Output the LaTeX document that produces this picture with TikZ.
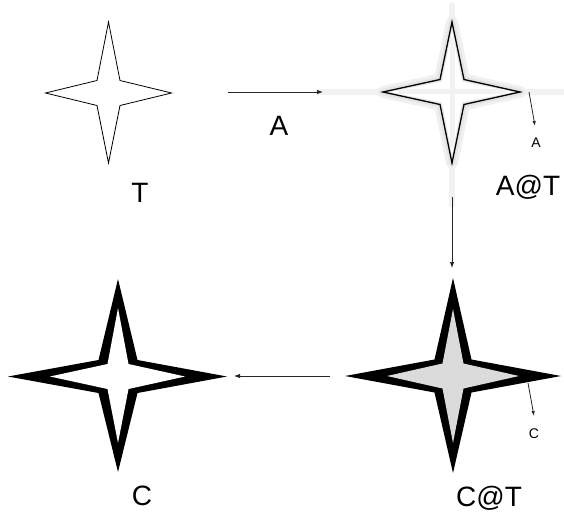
\documentclass[tikz,border=0pt]{standalone}
\usepackage{fontspec}
\setmainfont{Liberation Sans}
\usetikzlibrary{arrows.meta}
\newcommand\fourstar[8]{% cx cy left right top bottom ix iy
  (#1-#3,#2) -- (#1-#7,#2-#8) -- (#1,#2-#5) -- (#1+#7,#2-#8) -- (#1+#4,#2) -- (#1+#7,#2+#8) -- (#1,#2+#6) -- (#1-#7,#2+#8) -- cycle}
\tikzset{
  conn/.style={draw=black!85, line width=0.9pt, -{Latex[length=6pt,width=4.5pt]}},
  smallconn/.style={draw=black!85, line width=0.8pt, -{Latex[length=5pt,width=3.5pt]}},
  biglabel/.style={font=\fontsize{28}{30}\selectfont, anchor=base, inner sep=0pt},
  smalllabel/.style={font=\fontsize{14}{16}\selectfont, anchor=base, inner sep=0pt},
  halo/.style={line join=round, line cap=round}
}
\begin{document}
\begin{tikzpicture}[x=1pt,y=-1pt]
\useasboundingbox (0,0) rectangle (564,516);
% ---- T star (thin outline)
\draw[line width=0.8pt, line join=miter] \fourstar{108.5}{93}{63}{63}{71}{70}{11.5}{12.5};
% ---- A@T star with faint gray halo
\draw[halo, draw=black!5, line width=6pt] (318,92) -- (564,92);
\draw[halo, draw=black!5, line width=6pt] (452,5) -- (452,205);
\draw[halo, draw=black!6, line width=12pt] \fourstar{452}{92}{69}{68}{70}{71}{12}{12.5};
\draw[halo, draw=black!10, line width=6pt] \fourstar{452}{92}{69}{68}{70}{71}{12}{12.5};
\fill[white] \fourstar{452}{92}{62}{61}{62}{63}{10}{10.5};
\draw[halo, draw=black!5, line width=5pt] (400,92) -- (505,92);
\draw[halo, draw=black!5, line width=5pt] (452,40) -- (452,145);
\draw[line width=1.3pt, line join=miter] \fourstar{452}{92}{69}{68}{70}{71}{12}{12.5};
% ---- C star (thick)
\fill[black] \fourstar{118}{376.5}{110}{109}{97.5}{95.5}{19.5}{16.5};
\fill[white] \fourstar{118}{376.5}{68}{67}{68.5}{66.5}{10.5}{12.5};
% ---- C@T star (thick, gray inside)
\fill[black] \fourstar{453}{376}{108}{108}{98}{97}{18.5}{16.5};
\fill[black!14] \fourstar{453}{376}{66}{66}{67}{67}{10.5}{12.5};
% ---- connector end points
\coordinate (Tout) at (228,92);
\coordinate (ATin) at (323,92);
\coordinate (ATout) at (452,197);
\coordinate (CTin) at (452,268);
\coordinate (CTout) at (330,376);
\coordinate (Cin) at (234,376);
\coordinate (ATtip) at (529,92);
\coordinate (ATend) at (535,126);
\coordinate (CTtip) at (528,383);
\coordinate (CTend) at (534,416);
% ---- connectors
\draw[conn] (Tout) -- (ATin);
\draw[conn] (ATout) -- (CTin);
\draw[conn] (CTout) -- (Cin);
\draw[smallconn] (ATtip) -- (ATend);
\draw[smallconn] (CTtip) -- (CTend);
% ---- labels
\node[biglabel] (lT) at (140,202) {T};
\node[biglabel] (lA) at (279,135) {A};
\node[biglabel] (lAT) at (528,195) {A@T};
\node[biglabel] (lC) at (142,505) {C};
\node[biglabel] (lCT) at (489,506) {C@T};
\node[smalllabel] (sA) at (536,147) {A};
\node[smalllabel] (sC) at (534,438) {C};
\end{tikzpicture}
\end{document}
